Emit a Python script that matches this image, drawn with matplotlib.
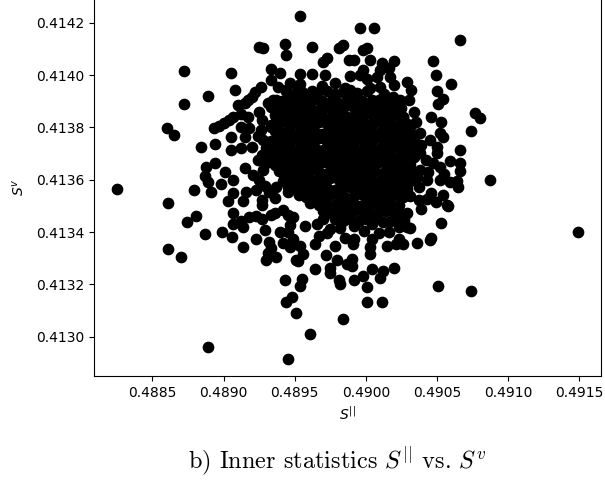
import matplotlib
matplotlib.use("Agg")
import matplotlib.pyplot as plt
from matplotlib.ticker import FormatStrFormatter

# outer / sparse points (S_par, S_v)
s_par_edge = [
    0.48825, 0.48872, 0.48905, 0.48908, 0.48889, 0.48872, 0.48860, 0.48865, 0.48884, 0.48894,
    0.48894, 0.48888, 0.48887, 0.48889, 0.48898, 0.48879, 0.48891, 0.48861, 0.48881, 0.48874,
    0.48887, 0.48861, 0.48870, 0.48889, 0.48945, 0.48954, 0.48925, 0.48928, 0.48943, 0.48944,
    0.48933, 0.48940, 0.48926, 0.48922, 0.48947, 0.48917, 0.48910, 0.48915, 0.48920, 0.48893,
    0.48897, 0.48900, 0.48904, 0.48907, 0.48912, 0.48917, 0.48912, 0.48918, 0.48915, 0.48905,
    0.48905, 0.48912, 0.48920, 0.48928, 0.48930, 0.48926, 0.48933, 0.48937, 0.48945, 0.48937,
    0.48945, 0.48949, 0.48901, 0.48907, 0.48915, 0.48921, 0.48928, 0.48924, 0.48930, 0.48937,
    0.48947, 0.48942, 0.48949, 0.48907, 0.48916, 0.48923, 0.48932, 0.48937, 0.48945, 0.48903,
    0.48914, 0.48907, 0.48907, 0.48912, 0.48914, 0.48918, 0.48923, 0.48927, 0.48899, 0.48906,
    0.48914, 0.48923, 0.48929, 0.48932, 0.48933, 0.48931, 0.48930, 0.48937, 0.48936, 0.48942,
    0.48945, 0.48949, 0.48940, 0.48945, 0.48947, 0.48942, 0.48947, 0.48951, 0.48943, 0.48948,
    0.48944, 0.48951, 0.48954, 0.48955, 0.48961, 0.48984, 0.48964, 0.48975, 0.48975, 0.48981,
    0.48982, 0.48992, 0.48980, 0.48972, 0.48987, 0.48990, 0.48990, 0.48998, 0.49001, 0.49001,
    0.49011, 0.49004, 0.49010, 0.49012, 0.49020, 0.49003, 0.49003, 0.48991, 0.48992, 0.48985,
    0.49004, 0.48978, 0.48964, 0.48952, 0.48956, 0.48954, 0.48949, 0.49015, 0.49021, 0.49023,
    0.49026, 0.49036, 0.49045, 0.49046, 0.49009, 0.49016, 0.49023, 0.49031, 0.48999, 0.48992,
    0.49004, 0.48973, 0.48967, 0.48975, 0.48957, 0.48985, 0.48970, 0.49020, 0.49029, 0.49039,
    0.49043, 0.49031, 0.49046, 0.49015, 0.48999, 0.48987, 0.49053, 0.49051, 0.49074, 0.49149,
    0.49029, 0.49057, 0.49049, 0.49024, 0.49016, 0.49065, 0.49058, 0.48996, 0.49006, 0.49066,
    0.48962, 0.48981, 0.48984, 0.48998, 0.49001, 0.48970, 0.48973, 0.48988, 0.48992, 0.49003,
    0.49011, 0.49020, 0.49047, 0.49049, 0.49060, 0.49050, 0.49054, 0.49051, 0.49077, 0.49080,
    0.49074, 0.49066, 0.49087, 0.49066, 0.49066, 0.49046, 0.49053, 0.49029, 0.49032, 0.49024,
    0.49018, 0.49030, 0.49034, 0.49035, 0.49052, 0.49054, 0.49045, 0.49050, 0.49050, 0.49047,
    0.49052, 0.49059, 0.49055, 0.49064, 0.49059, 0.49052, 0.49010, 0.49016, 0.49008, 0.49017,
    0.49010, 0.49020, 0.48998, 0.48989, 0.48996, 0.49001, 0.48962, 0.48971, 0.48978, 0.48954,
    0.49019, 0.49017, 0.49008, 0.49006, 0.49012, 0.49038, 0.49032, 0.49033, 0.49038, 0.49042,
    0.49038, 0.49043, 0.49037, 0.49054, 0.49026, 0.49026, 0.48933, 0.48938, 0.48952, 0.48944,
    0.48952, 0.48935, 0.48931, 0.49033, 0.49036, 0.48936, 0.48927,
    0.48925, 0.48927, 0.48924, 0.48927, 0.48925, 0.48927, 0.48933, 0.48929,
    0.49039, 0.49044, 0.49037, 0.49027, 0.49032, 0.49025,
    0.48954, 0.48969, 0.48985, 0.49003, 0.49013, 0.48966, 0.48982,
]
s_v_edge = [
    0.413565, 0.414016, 0.414007, 0.413942, 0.413919, 0.413888, 0.413798, 0.413772, 0.413725, 0.413735,
    0.413663, 0.413650, 0.413616, 0.413592, 0.413582, 0.413559, 0.413552, 0.413510, 0.413463, 0.413440,
    0.413393, 0.413337, 0.413306, 0.412959, 0.412915, 0.414225, 0.414108, 0.414104, 0.414117, 0.414076,
    0.414023, 0.414008, 0.413955, 0.413936, 0.413968, 0.413904, 0.413885, 0.413892, 0.413917, 0.413796,
    0.413805, 0.413815, 0.413828, 0.413840, 0.413850, 0.413840, 0.413802, 0.413796, 0.413764, 0.413764,
    0.413713, 0.413723, 0.413726, 0.413752, 0.413720, 0.413790, 0.413802, 0.413840, 0.413866, 0.413904,
    0.413917, 0.413892, 0.413629, 0.413599, 0.413644, 0.413618, 0.413637, 0.413675, 0.413663, 0.413701,
    0.413675, 0.413624, 0.413600, 0.413548, 0.413554, 0.413561, 0.413554, 0.413573, 0.413554, 0.413519,
    0.413519, 0.413474, 0.413430, 0.413442, 0.413421, 0.413459, 0.413461, 0.413450, 0.413402, 0.413382,
    0.413343, 0.413374, 0.413408, 0.413363, 0.413338, 0.413319, 0.413294, 0.413306, 0.413474, 0.413484,
    0.413465, 0.413459, 0.413402, 0.413402, 0.413427, 0.413357, 0.413344, 0.413294, 0.413217, 0.413153,
    0.413131, 0.413089, 0.413192, 0.413220, 0.413012, 0.413069, 0.413258, 0.413264, 0.413243, 0.413217,
    0.413201, 0.413217, 0.413294, 0.413313, 0.413277, 0.413271, 0.413298, 0.413231, 0.413190, 0.413133,
    0.413131, 0.413260, 0.413226, 0.413252, 0.413263, 0.413341, 0.413318, 0.413353, 0.413373, 0.413379,
    0.413372, 0.413347, 0.413353, 0.413290, 0.413315, 0.413347, 0.413373, 0.413347, 0.413353, 0.413372,
    0.413355, 0.413357, 0.413370, 0.413376, 0.413398, 0.413402, 0.413421, 0.413417, 0.413404, 0.413423,
    0.413430, 0.413398, 0.413385, 0.413411, 0.413423, 0.413449, 0.413449, 0.413449, 0.413474, 0.413487,
    0.413525, 0.413538, 0.413550, 0.413487, 0.413487, 0.413500, 0.413436, 0.413192, 0.413173, 0.413400,
    0.413421, 0.413503, 0.413516, 0.413472, 0.413440, 0.413572, 0.413500, 0.414179, 0.414179, 0.414133,
    0.414106, 0.414104, 0.414116, 0.414095, 0.414104, 0.414050, 0.414065, 0.414057, 0.414057, 0.414057,
    0.414044, 0.414054, 0.414053, 0.414000, 0.413965, 0.413940, 0.413908, 0.413890, 0.413855, 0.413834,
    0.413786, 0.413715, 0.413599, 0.413663, 0.413633, 0.413838, 0.413820, 0.413974, 0.413942, 0.413904,
    0.413885, 0.413904, 0.413860, 0.413821, 0.413777, 0.413764, 0.413752, 0.413726, 0.413701, 0.413663,
    0.413650, 0.413673, 0.413620, 0.413595, 0.413591, 0.413599, 0.414019, 0.414025, 0.413993, 0.413993,
    0.413955, 0.413961, 0.414019, 0.413996, 0.414000, 0.413985, 0.414005, 0.414000, 0.413968, 0.414002,
    0.413917, 0.413879, 0.413898, 0.413866, 0.413853, 0.413777, 0.413764, 0.413726, 0.413701, 0.413675,
    0.413637, 0.413599, 0.413573, 0.413542, 0.413840, 0.413802, 0.413981, 0.413955, 0.413942, 0.413942,
    0.413917, 0.413904, 0.413892, 0.413752, 0.413611, 0.413529, 0.413522,
    0.413858, 0.413828, 0.413767, 0.413694, 0.413600, 0.413503, 0.413465, 0.413576,
    0.413732, 0.413629, 0.413523, 0.413446, 0.413809, 0.413874,
    0.413965, 0.413958, 0.413950, 0.413950, 0.413927, 0.413431, 0.413416,
]

# dense central cloud, read row by row
s_par_core = [
    0.48944, 0.48951, 0.48955, 0.48962, 0.48966, 0.48973, 0.48978, 0.48984, 0.48989, 0.48994, 0.49001,
    0.48941, 0.48948, 0.48953, 0.48959, 0.48964, 0.48969, 0.48976, 0.48980, 0.48987, 0.48992, 0.48997, 0.49004, 0.49009, 0.49013,
    0.48933, 0.48940, 0.48944, 0.48951, 0.48956, 0.48961, 0.48968, 0.48972, 0.48979, 0.48984, 0.48990, 0.48995, 0.49001, 0.49006, 0.49012, 0.49018, 0.49023,
    0.48936, 0.48942, 0.48948, 0.48953, 0.48959, 0.48964, 0.48970, 0.48976, 0.48981, 0.48987, 0.48992, 0.48998, 0.49004, 0.49009, 0.49015, 0.49020, 0.49026,
    0.48933, 0.48939, 0.48945, 0.48950, 0.48956, 0.48962, 0.48967, 0.48973, 0.48978, 0.48984, 0.48990, 0.48995, 0.49001, 0.49006, 0.49012, 0.49017, 0.49023, 0.49029,
    0.48936, 0.48941, 0.48947, 0.48953, 0.48958, 0.48964, 0.48969, 0.48975, 0.48981, 0.48986, 0.48992, 0.48997, 0.49003, 0.49009, 0.49014, 0.49020, 0.49025, 0.49031,
    0.48933, 0.48939, 0.48944, 0.48950, 0.48956, 0.48961, 0.48967, 0.48972, 0.48978, 0.48984, 0.48989, 0.48995, 0.49000, 0.49006, 0.49012, 0.49017, 0.49023, 0.49028, 0.49034,
    0.48936, 0.48942, 0.48947, 0.48953, 0.48959, 0.48964, 0.48970, 0.48975, 0.48981, 0.48987, 0.48992, 0.48998, 0.49003, 0.49009, 0.49015, 0.49020, 0.49026, 0.49031, 0.49037,
    0.48934, 0.48939, 0.48945, 0.48950, 0.48956, 0.48961, 0.48967, 0.48973, 0.48978, 0.48983, 0.48989, 0.48995, 0.49001, 0.49006, 0.49011, 0.49017, 0.49023, 0.49028, 0.49034,
    0.48936, 0.48942, 0.48948, 0.48953, 0.48958, 0.48964, 0.48970, 0.48975, 0.48980, 0.48986, 0.48992, 0.48998, 0.49003, 0.49008, 0.49014, 0.49020, 0.49026, 0.49031,
    0.48939, 0.48945, 0.48950, 0.48956, 0.48961, 0.48967, 0.48972, 0.48978, 0.48984, 0.48989, 0.48995, 0.49000, 0.49006, 0.49012, 0.49017, 0.49023, 0.49028, 0.49034,
    0.48942, 0.48947, 0.48953, 0.48959, 0.48964, 0.48970, 0.48975, 0.48981, 0.48986, 0.48992, 0.48998, 0.49003, 0.49009, 0.49014, 0.49020, 0.49026, 0.49031,
    0.48945, 0.48950, 0.48956, 0.48961, 0.48967, 0.48973, 0.48978, 0.48984, 0.48989, 0.48995, 0.49001, 0.49006, 0.49012, 0.49017, 0.49023, 0.49029,
    0.48953, 0.48958, 0.48964, 0.48970, 0.48975, 0.48981, 0.48986, 0.48992, 0.48998, 0.49003, 0.49009, 0.49014, 0.49020, 0.49026,
    0.48961, 0.48967, 0.48972, 0.48978, 0.48984, 0.48989, 0.48995, 0.49000, 0.49006, 0.49012, 0.49017, 0.49023,
    0.48970, 0.48975, 0.48981, 0.48986, 0.48992, 0.48998, 0.49003, 0.49009, 0.49014, 0.49020,
    0.48978, 0.48984, 0.48989, 0.48995, 0.49000, 0.49006, 0.49012,
]
s_v_core = [
    0.413938, 0.413931, 0.413936, 0.413940, 0.413932, 0.413937, 0.413929, 0.413935, 0.413941, 0.413933, 0.413937,
    0.413901, 0.413907, 0.413899, 0.413905, 0.413910, 0.413902, 0.413906, 0.413898, 0.413904, 0.413909, 0.413900, 0.413906, 0.413903, 0.413908,
    0.413877, 0.413870, 0.413875, 0.413879, 0.413871, 0.413876, 0.413872, 0.413878, 0.413869, 0.413874, 0.413880, 0.413871, 0.413876, 0.413873, 0.413878, 0.413870, 0.413875,
    0.413846, 0.413840, 0.413844, 0.413849, 0.413841, 0.413845, 0.413838, 0.413843, 0.413848, 0.413840, 0.413845, 0.413842, 0.413847, 0.413839, 0.413844, 0.413848, 0.413841,
    0.413810, 0.413816, 0.413811, 0.413818, 0.413809, 0.413814, 0.413819, 0.413811, 0.413815, 0.413808, 0.413813, 0.413817, 0.413810, 0.413815, 0.413812, 0.413818, 0.413809, 0.413814,
    0.413785, 0.413779, 0.413784, 0.413778, 0.413786, 0.413781, 0.413776, 0.413783, 0.413787, 0.413779, 0.413784, 0.413780, 0.413785, 0.413778, 0.413783, 0.413787, 0.413780, 0.413784,
    0.413749, 0.413755, 0.413750, 0.413757, 0.413748, 0.413753, 0.413758, 0.413750, 0.413754, 0.413747, 0.413752, 0.413756, 0.413749, 0.413754, 0.413751, 0.413757, 0.413748, 0.413753, 0.413750,
    0.413724, 0.413718, 0.413723, 0.413717, 0.413725, 0.413720, 0.413715, 0.413722, 0.413726, 0.413718, 0.413723, 0.413719, 0.413724, 0.413717, 0.413722, 0.413726, 0.413719, 0.413723, 0.413718,
    0.413693, 0.413687, 0.413692, 0.413686, 0.413694, 0.413689, 0.413684, 0.413691, 0.413695, 0.413687, 0.413692, 0.413688, 0.413693, 0.413686, 0.413691, 0.413695, 0.413688, 0.413692, 0.413687,
    0.413657, 0.413663, 0.413658, 0.413664, 0.413656, 0.413661, 0.413666, 0.413658, 0.413662, 0.413655, 0.413660, 0.413664, 0.413657, 0.413662, 0.413659, 0.413665, 0.413656, 0.413661,
    0.413632, 0.413626, 0.413631, 0.413625, 0.413633, 0.413628, 0.413623, 0.413630, 0.413634, 0.413626, 0.413631, 0.413627, 0.413632, 0.413625, 0.413630, 0.413634, 0.413627, 0.413631,
    0.413596, 0.413602, 0.413597, 0.413603, 0.413595, 0.413600, 0.413605, 0.413597, 0.413601, 0.413594, 0.413599, 0.413603, 0.413596, 0.413601, 0.413598, 0.413604, 0.413595,
    0.413571, 0.413565, 0.413570, 0.413564, 0.413572, 0.413567, 0.413562, 0.413569, 0.413573, 0.413565, 0.413570, 0.413566, 0.413571, 0.413564, 0.413569, 0.413566,
    0.413541, 0.413535, 0.413540, 0.413534, 0.413542, 0.413537, 0.413532, 0.413539, 0.413543, 0.413535, 0.413540, 0.413536, 0.413541, 0.413534,
    0.413510, 0.413504, 0.413509, 0.413503, 0.413511, 0.413506, 0.413501, 0.413508, 0.413512, 0.413504, 0.413509, 0.413505,
    0.413480, 0.413474, 0.413479, 0.413473, 0.413481, 0.413476, 0.413471, 0.413478, 0.413482, 0.413474,
    0.413449, 0.413443, 0.413448, 0.413442, 0.413450, 0.413445, 0.413440,
]

x_ticks = [0.4885, 0.4890, 0.4895, 0.4900, 0.4905, 0.4910, 0.4915]
y_ticks = [0.4130, 0.4132, 0.4134, 0.4136, 0.4138, 0.4140, 0.4142]

fig = plt.figure(figsize=(6.05, 4.86), dpi=100)
# axes top is cut off by the figure edge, as in the reference
ax = fig.add_axes([0.1554, 0.2263, 0.8375, 0.7788])

ax.scatter(s_par_edge + s_par_core, s_v_edge + s_v_core, color="black", s=55)

ax.set_xlim(0.48809, 0.49165)
ax.set_ylim(0.41285, 0.414296)
ax.set_xticks(x_ticks)
ax.set_yticks(y_ticks)
ax.xaxis.set_major_formatter(FormatStrFormatter("%.4f"))
ax.yaxis.set_major_formatter(FormatStrFormatter("%.4f"))
ax.set_xlabel(r"$S^{||}$")
ax.set_ylabel(r"$S^v$", labelpad=7)

fig.text(0.558, 0.0514, r"b) Inner statistics $S^{||}$ vs. $S^{v}$",
         ha="center", va="center", fontsize=17.5, family="cmr10",
         math_fontfamily="cm")

fig.savefig("out.png", dpi=100)
